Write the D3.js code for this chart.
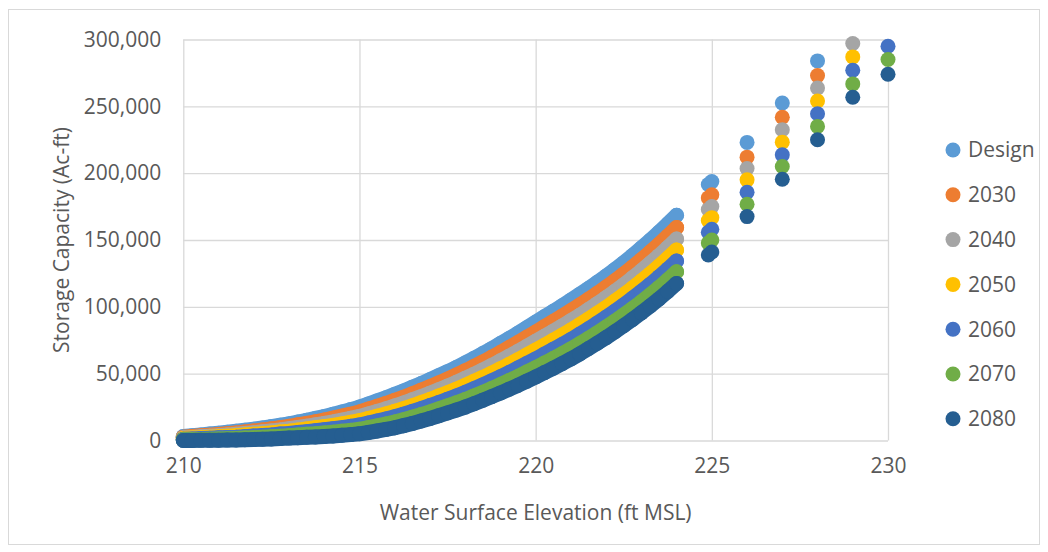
<!DOCTYPE html>
<html>
<head>
<meta charset="utf-8">
<script src="https://cdn.jsdelivr.net/npm/d3@7"></script>
<style>
  html, body { margin: 0; padding: 0; background: #ffffff; }
  svg { display: block; }
  text { font-family: "Open Sans", "DejaVu Sans", sans-serif; fill: #595959; }
</style>
</head>
<body>
<svg id="chart" width="1048" height="552"></svg>
<script>
// ---- Data (storage in thousand Ac-ft) ----
const elevation = [
  210,210.25,210.5,210.75, 211,211.25,211.5,211.75, 212,212.25,212.5,212.75,
  213,213.25,213.5,213.75, 214,214.25,214.5,214.75, 215,215.25,215.5,215.75,
  216,216.25,216.5,216.75, 217,217.25,217.5,217.75, 218,218.25,218.5,218.75,
  219,219.25,219.5,219.75, 220,220.25,220.5,220.75, 221,221.25,221.5,221.75,
  222,222.25,222.5,222.75, 223,223.25,223.5,223.75, 224,
  224.9,225,226,227,228,229,230
];
const seriesNames = ["Design","2030","2040","2050","2060","2070","2080"];
const seriesColors = ["#5B9BD5","#ED7D31","#A5A5A5","#FFC000","#4472C4","#70AD47","#255E91"];

const design = [3.0,3.6,4.2,4.8, 5.5,6.2,6.9,7.7, 8.5,9.4,10.4,11.4, 12.5,13.8,15.1,16.5, 18.0,19.6,21.3,23.1,
  25.0,27.3,29.6,32.0, 34.5,37.1,39.8,42.6, 45.5,48.5,51.5,54.7, 58.0,61.5,65.0,68.7, 72.5,76.4,80.3,84.4,
  88.5,92.6,96.7,100.8, 105.0,109.3,113.7,118.3, 123.0,127.9,133.0,138.4, 144.0,149.8,155.8,162.0, 168.5,
  191.5,193.7,223,252.5,284,null,null];
const y2030 = [2.5,3.0,3.5,4.0, 4.5,5.1,5.7,6.4, 7.1,7.9,8.7,9.6, 10.6,11.7,12.8,14.0, 15.3,16.7,18.2,19.7,
  21.4,23.5,25.6,27.7, 30.0,32.4,34.9,37.6, 40.3,43.1,45.9,49.0, 52.1,55.4,58.7,62.2, 65.8,69.6,73.3,77.2,
  81.1,85.1,89.0,93.0, 97.1,101.3,105.6,110.1, 114.7,119.5,124.5,129.8, 135.3,140.9,146.8,152.9, 159.3,
  181.5,183.8,212,241.8,273,null,null];
const y2040 = [2.0,2.3,2.8,3.2, 3.6,4.1,4.6,5.2, 5.8,6.5,7.2,7.9, 8.8,9.7,10.7,11.7, 12.8,13.9,15.2,16.6,
  18.0,19.8,21.7,23.7, 25.8,28.0,30.4,32.8, 35.4,38.0,40.7,43.5, 46.5,49.6,52.8,56.1, 59.6,63.1,66.7,70.4,
  74.2,78.0,81.8,85.6, 89.6,93.7,98.0,102.4, 106.9,111.6,116.5,121.7, 127.0,132.6,138.3,144.4, 150.7,
  172.8,175,203.5,232.5,263.7,297,null];
const y2050 = [1.5,1.8,2.1,2.4, 2.8,3.2,3.6,4.1, 4.6,5.1,5.7,6.4, 7.0,7.8,8.6,9.5, 10.4,11.3,12.4,13.6,
  14.8,16.4,18.1,19.9, 21.8,23.8,26.0,28.3, 30.7,33.2,35.7,38.4, 41.2,44.2,47.2,50.4, 53.6,57.0,60.4,64.0,
  67.6,71.3,75.0,78.7, 82.6,86.6,90.8,95.1, 99.5,104.2,109.0,114.0, 119.3,124.7,130.4,136.3, 142.5,
  164.5,166.7,195,223.2,254,287,null];
const y2060 = [1.0,1.2,1.5,1.7, 2.0,2.3,2.5,2.9, 3.3,3.8,4.2,4.8, 5.3,6.0,6.6,7.3, 8.0,8.8,9.6,10.6,
  11.6,13.0,14.5,16.1, 17.8,19.7,21.7,23.8, 26.1,28.4,30.8,33.3, 35.9,38.7,41.6,44.6, 47.7,50.9,54.2,57.6,
  61.0,64.6,68.2,71.8, 75.5,79.5,83.6,87.8, 92.2,96.7,101.4,106.4, 111.5,116.8,122.4,128.2, 134.3,
  155.8,158,185.7,213.7,244.5,277,295];
const y2070 = [0.5,0.6,0.8,0.9, 1.1,1.3,1.5,1.8, 2.1,2.4,2.8,3.2, 3.6,4.1,4.6,5.0, 5.6,6.2,6.9,7.6,
  8.4,9.6,10.9,12.3, 13.8,15.5,17.4,19.4, 21.4,23.6,25.9,28.2, 30.6,33.3,36.0,38.9, 41.8,44.9,47.9,51.2,
  54.5,57.9,61.3,64.9, 68.5,72.4,76.4,80.5, 84.8,89.3,93.9,98.7, 103.7,109.0,114.4,120.2, 126.2,
  147.8,150,176.7,205,235,266.8,285];
const y2080 = [0.0,0.0,0.1,0.1, 0.2,0.3,0.4,0.6, 0.8,1.0,1.2,1.5, 1.8,2.1,2.4,2.7, 3.0,3.4,3.9,4.4,
  5.0,6.0,7.1,8.3, 9.5,11.1,12.8,14.6, 16.5,18.5,20.6,22.8, 25.0,27.5,30.1,32.8, 35.5,38.4,41.3,44.4,
  47.5,50.8,54.1,57.5, 61.0,64.8,68.8,72.8, 77.0,81.4,85.9,90.6, 95.5,100.6,105.9,111.6, 117.5,
  138.8,141,167.5,195.5,225,256.8,274];

const xTicks = [210, 215, 220, 225, 230];
const yTicks = [0, 50, 100, 150, 200, 250, 300];
const xTitle = "Water Surface Elevation (ft MSL)";
const yTitle = "Storage Capacity (Ac-ft)";
const denseLimit = 224; // the closely spaced readings end here

const seriesValues = [design, y2030, y2040, y2050, y2060, y2070, y2080];

// ---- Drawing ----
const svg = d3.select("#chart");
const plot = { left: 183.3, right: 888, top: 39.5, bottom: 440.5 };
const markerR = 7.5;

svg.append("rect")
  .attr("x", 8.5).attr("y", 9.5).attr("width", 1031).attr("height", 535)
  .attr("fill", "#ffffff").attr("stroke", "#d9d9d9").attr("stroke-width", 1);

const x = d3.scaleLinear().domain([210, 230]).range([plot.left, plot.right]);
const y = d3.scaleLinear().domain([0, 300]).range([plot.bottom, plot.top]);

// gridlines
svg.append("g")
  .attr("transform", `translate(${plot.left},0)`)
  .call(d3.axisLeft(y).tickValues(yTicks).tickSize(-(plot.right - plot.left)).tickFormat(""))
  .call(g => g.select(".domain").remove())
  .call(g => g.selectAll("line").attr("stroke", "#d9d9d9").attr("stroke-width", 1.3));
svg.append("g")
  .attr("transform", `translate(0,${plot.bottom})`)
  .call(d3.axisBottom(x).tickValues(xTicks).tickSize(-(plot.bottom - plot.top)).tickFormat(""))
  .call(g => g.select(".domain").remove())
  .call(g => g.selectAll("line").attr("stroke", "#d9d9d9").attr("stroke-width", 1.3));

// tick labels
const fmt = d3.format(",");
svg.append("g")
  .attr("transform", `translate(${plot.left},0)`)
  .call(d3.axisLeft(y).tickValues(yTicks).tickSize(0).tickPadding(22).tickFormat(d => fmt(d * 1000)))
  .call(g => g.select(".domain").remove())
  .call(g => g.selectAll("text").attr("font-size", 21).attr("fill", "#595959")
    .attr("font-family", "'Open Sans', sans-serif"));
svg.append("g")
  .attr("transform", `translate(0,${plot.bottom})`)
  .call(d3.axisBottom(x).tickValues(xTicks).tickSize(0).tickPadding(18).tickFormat(d3.format("d")))
  .call(g => g.select(".domain").remove())
  .call(g => g.selectAll("text").attr("font-size", 21).attr("fill", "#595959")
    .attr("font-family", "'Open Sans', sans-serif"));

// axis titles
svg.append("text")
  .attr("x", (plot.left + plot.right) / 2).attr("y", 520)
  .attr("text-anchor", "middle").attr("font-size", 21)
  .text(xTitle);
svg.append("text")
  .attr("transform", `translate(69,${(plot.top + plot.bottom) / 2}) rotate(-90)`)
  .attr("text-anchor", "middle").attr("font-size", 21)
  .text(yTitle);

// series markers (first series drawn first, last on top)
const band = d3.line().x(d => x(d.e)).y(d => y(d.v));
seriesNames.forEach((name, i) => {
  const pts = elevation.map((e, j) => ({ e, v: seriesValues[i][j] })).filter(d => d.v !== null);
  const g = svg.append("g").attr("class", "series");
  // the closely spaced markers merge into a continuous band
  g.append("path")
    .datum(pts.filter(d => d.e <= denseLimit))
    .attr("d", band)
    .attr("fill", "none").attr("stroke", seriesColors[i])
    .attr("stroke-width", markerR * 2).attr("stroke-linecap", "round").attr("stroke-linejoin", "round");
  g.selectAll("circle").data(pts).join("circle")
    .attr("cx", d => x(d.e)).attr("cy", d => y(d.v))
    .attr("r", markerR).attr("fill", seriesColors[i]);
});

// legend
const legend = svg.append("g").attr("class", "legend");
const leg = legend.selectAll("g").data(seriesNames).join("g")
  .attr("transform", (d, i) => `translate(953,${150 + i * 44.8})`);
leg.append("circle").attr("r", markerR).attr("fill", (d, i) => seriesColors[i]);
leg.append("text").attr("x", 15).attr("dy", "0.35em").attr("font-size", 21).text(d => d);
</script>
</body>
</html>
